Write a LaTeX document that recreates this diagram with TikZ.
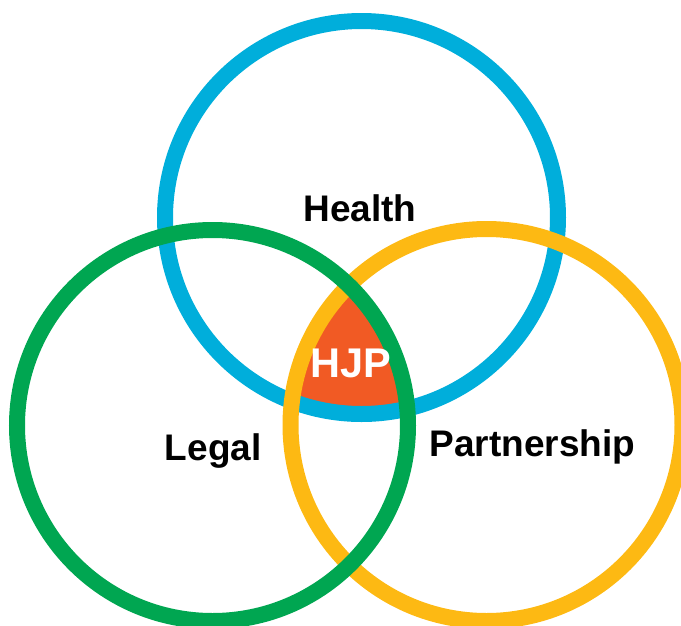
\documentclass[tikz,border=0pt]{standalone}
\usepackage{fontspec}
\setmainfont{Liberation Sans}
\definecolor{cblue}{RGB}{0,174,219}
\definecolor{cgreen}{RGB}{0,166,81}
\definecolor{cyellow}{RGB}{253,185,19}
\definecolor{cred}{RGB}{241,90,36}
\begin{document}
\begin{tikzpicture}[x=1pt,y=-1pt,
  ring/.style={line width=16pt},
  lbl/.style={font=\fontsize{37}{40}\selectfont\bfseries, anchor=base, inner sep=0pt, text=black},
  core/.style={font=\fontsize{41.5}{44}\selectfont\bfseries, anchor=base, inner sep=0pt, text=white}]
\useasboundingbox (0,0) rectangle (681,625);
\coordinate (cb) at (361.5,217.5);
\coordinate (cg) at (212.5,425.5);
\coordinate (cy) at (486.5,425);
\begin{scope}
  \clip (cb) circle (196.5);
  \clip (cg) circle (195.5);
  \fill[cred] (cy) circle (196);
\end{scope}
\draw[ring, cblue] (cb) circle (196.5);
\draw[ring, cyellow] (cy) circle (196);
\draw[ring, cgreen] (cg) circle (195.5);
\node[lbl] (health) at (360,221.7) {Health};
\node[lbl] (legal) at (213.3,460) {Legal};
\node[lbl] (partner) at (532.5,456) {Partnership};
\node[core] (hjp) at (351,377) {HJP};
\end{tikzpicture}
\end{document}
